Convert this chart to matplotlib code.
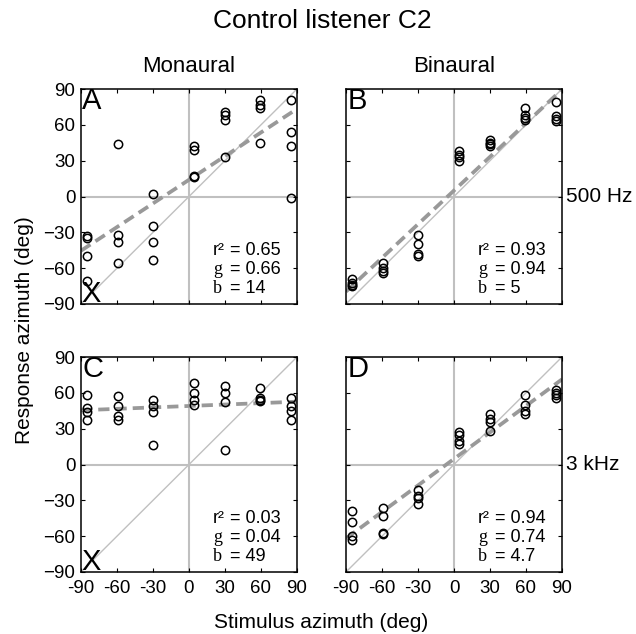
import numpy as np
import matplotlib
matplotlib.use("Agg")
import matplotlib.pyplot as plt

plt.rcParams['font.family'] = ['Liberation Sans', 'DejaVu Sans']
plt.rcParams['axes.unicode_minus'] = False

# stimulus azimuths (deg), 4 responses per stimulus
stim = np.array([-85, -59, -30, 4, 30, 59, 85])

resp_A = [[-33, -35, -50, -71], [44, -32, -38, -56], [2, -25, -38, -53],
          [42, 39, 17, 16], [71, 68, 64, 33], [81, 77, 74, 45], [81, 54, 42, -1]]
resp_B = [[-69, -72, -74, -75], [-56, -60, -62, -64], [-32, -40, -48, -50],
          [38, 35, 33, 30], [47, 45, 44, 42], [74, 68, 66, 64], [79, 67, 65, 63]]
resp_C = [[58, 47, 44, 37], [57, 49, 41, 37], [54, 49, 44, 16],
          [68, 60, 54, 50], [66, 60, 52, 12], [64, 56, 54, 53], [56, 49, 45, 37]]
resp_D = [[-39, -48, -60, -63], [-36, -43, -57, -58], [-21, -26, -28, -33],
          [27, 25, 20, 17], [42, 38, 36, 28], [58, 50, 45, 42], [62, 60, 58, 56]]

r2_vals = ["0.65", "0.93", "0.03", "0.94"]
g_vals = ["0.66", "0.94", "0.04", "0.74"]
b_vals = ["14", "5", "49", "4.7"]
letters = ["A", "B", "C", "D"]
col_titles = ["Monaural", "Binaural"]
row_labels = ["500 Hz", "3 kHz"]
ticks = [-90, -60, -30, 0, 30, 60, 90]

W, H = 636, 634
fig = plt.figure(figsize=(W / 100, H / 100), dpi=100)

lefts = [81, 346]
tops = [89, 357]
aw, ah = 216, 215

all_resp = [resp_A, resp_B, resp_C, resp_D]

for i in range(4):
    row, col = i // 2, i % 2
    rect = [lefts[col] / W, 1 - (tops[row] + ah) / H, aw / W, ah / H]
    ax = fig.add_axes(rect)
    ax.set_xlim(-90, 90)
    ax.set_ylim(-90, 90)

    # reference lines
    ax.axhline(0, color="#c0c0c0", lw=1.5, zorder=1)
    ax.axvline(0, color="#c0c0c0", lw=1.5, zorder=1)
    ax.plot([-90, 90], [-90, 90], color="#c0c0c0", lw=1.0, zorder=1)

    # regression line y = g*x + b
    g = float(g_vals[i])
    b = float(b_vals[i])
    xl = np.array([-90, 90])
    ax.plot(xl, g * xl + b, color="#999999", lw=2.7, dashes=(3, 1.6), zorder=2)

    r = np.array(all_resp[i])
    ax.plot(np.repeat(stim, r.shape[1]), r.flatten(), "o", ms=6, mfc="none",
            mec="black", mew=1.1, zorder=3, clip_on=False)

    ax.set_xticks(ticks)
    ax.set_yticks(ticks)
    ax.tick_params(direction="in", length=3, width=0.8, top=True, right=True,
                   labelsize=13.5)
    ax.tick_params(axis="x", pad=6)
    ax.tick_params(axis="y", pad=4)
    if row == 1:
        ax.set_xticklabels([str(t) for t in ticks])
    else:
        ax.set_xticklabels([])
    if col == 0:
        ax.set_yticklabels([str(t).replace("-", "\u2212") for t in ticks])
    else:
        ax.set_yticklabels([])
    for s in ax.spines.values():
        s.set_linewidth(1.1)

    ax.text(-89, 92, letters[i], fontsize=21, ha="left", va="top")
    if col == 0:
        ax.text(-90, -93, "X", fontsize=21, ha="left", va="bottom")

    # fit statistics
    ax.text(20, -45, "r\u00b2", fontsize=13, ha="left", va="center")
    ax.text(20, -61, "g", fontsize=13, ha="left", va="center",
            family="Liberation Serif")
    ax.text(20, -77, "b", fontsize=13, ha="left", va="center",
            family="Liberation Serif")
    ax.text(34, -45, "= " + r2_vals[i], fontsize=13, ha="left", va="center")
    ax.text(34, -61, "= " + g_vals[i], fontsize=13, ha="left", va="center")
    ax.text(34, -77, "= " + b_vals[i], fontsize=13, ha="left", va="center")

    if row == 0:
        ax.set_title(col_titles[col], fontsize=16, pad=12)
    if col == 1:
        ax.text(1.02, 0.5, row_labels[row], transform=ax.transAxes,
                fontsize=15, ha="left", va="center")

fig.text(322 / W, 1 - 21 / H, "Control listener C2", fontsize=19,
         ha="center", va="center")
fig.text(321 / W, 1 - 622 / H, "Stimulus azimuth (deg)", fontsize=15,
         ha="center", va="center")
fig.text(25 / W, 1 - 330 / H, "Response azimuth (deg)", fontsize=15,
         ha="center", va="center", rotation=90)

fig.savefig("out.png", dpi=100)
